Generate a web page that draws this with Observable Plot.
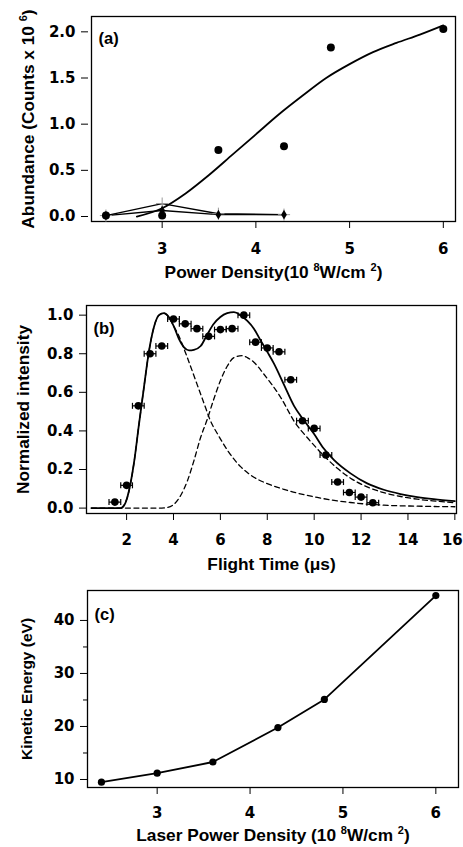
<!DOCTYPE html>
<html><head><meta charset="utf-8">
<script src="https://cdn.jsdelivr.net/npm/d3@7"></script>
<script src="https://cdn.jsdelivr.net/npm/@observablehq/plot@0.6"></script>
<style>
body{margin:0;background:#fff;}
#c{width:463px;}
#c svg{display:block;}
g[aria-label="x-axis tick label"], g[aria-label="y-axis tick label"] {font-family: 'DejaVu Sans', 'Liberation Sans', sans-serif; font-size: 15px; font-weight: bold;}
g[aria-label="x-axis label"], g[aria-label="y-axis label"] {font-size: 17.3px; font-weight: bold;}
</style></head><body><div id="c"></div>
<script>
// ---------- Panel (a) ----------
const aPower = [2.4, 3.0, 3.6, 4.3, 4.8, 6.0];
const aAbundance = [0.01, 0.01, 0.72, 0.76, 1.83, 2.03];
const aFitX = [2.73, 3.0, 3.25, 3.5, 3.75, 4.0, 4.25, 4.5, 4.75, 5.0, 5.25, 5.5, 5.75, 6.0];
const aFitY = [0.0, 0.09, 0.25, 0.45, 0.67, 0.89, 1.11, 1.31, 1.50, 1.65, 1.78, 1.88, 1.97, 2.07];
const aDiamondX = [2.4, 3.0, 3.6, 4.3];
const aDiamondY = [0.01, 0.065, 0.02, 0.02];
const aPlusX = [2.4, 3.0, 3.6, 4.3];
const aPlusY = [0.01, 0.14, 0.03, 0.02];
const aXTicks = [3, 4, 5, 6];
const aYTicks = [0, 0.5, 1.0, 1.5, 2.0];

// ---------- Panel (b) ----------
const bTime = [1.5, 2.0, 2.5, 3.0, 3.5, 4.0, 4.5, 5.0, 5.5, 6.0, 6.5, 7.0, 7.5, 8.0, 8.5, 9.0, 9.5, 10.0, 10.5, 11.0, 11.5, 12.0, 12.5];
const bIntensity = [0.031, 0.118, 0.53, 0.80, 0.84, 0.98, 0.955, 0.93, 0.89, 0.925, 0.93, 1.0, 0.86, 0.83, 0.81, 0.665, 0.453, 0.413, 0.275, 0.135, 0.081, 0.057, 0.028];
const bTimeErr = [0.25, 0.25, 0.25, 0.25, 0.25, 0.25, 0.25, 0.25, 0.25, 0.25, 0.25, 0.25, 0.25, 0.25, 0.25, 0.25, 0.25, 0.25, 0.25, 0.25, 0.25, 0.25, 0.25];
const bSumX = [0.5, 1.77, 2.03, 2.31, 2.53, 2.74, 2.95, 3.17, 3.38, 3.59, 3.8, 4.02, 4.23, 4.44, 4.66, 4.87, 5.16, 5.44, 5.72, 6.0, 6.29, 6.58, 6.86, 7.15, 7.43, 7.71, 8.0, 8.28, 8.71, 9.14, 9.56, 9.99, 10.4, 10.84, 11.55, 12.26, 12.97, 13.68, 14.4, 15.1, 16.0];
const bSumY = [0, 0, 0.055, 0.23, 0.436, 0.626, 0.81, 0.94, 1.0, 1.01, 0.99, 0.94, 0.877, 0.834, 0.817, 0.82, 0.84, 0.90, 0.955, 0.99, 1.01, 1.016, 1.0, 0.97, 0.93, 0.87, 0.81, 0.75, 0.64, 0.53, 0.455, 0.385, 0.31, 0.25, 0.18, 0.128, 0.095, 0.073, 0.057, 0.046, 0.036];
const bFastX = [1.77, 2.03, 2.31, 2.53, 2.74, 2.95, 3.17, 3.38, 3.59, 3.8, 4.02, 4.16, 4.59, 5.01, 5.37, 5.55, 5.9, 6.3, 6.86, 7.43, 8.0, 8.71, 10.13, 11.55, 12.97, 14.4, 16.0];
const bFastY = [0, 0.055, 0.23, 0.436, 0.626, 0.81, 0.94, 1.0, 1.01, 0.99, 0.94, 0.91, 0.78, 0.64, 0.52, 0.46, 0.38, 0.30, 0.215, 0.16, 0.127, 0.097, 0.055, 0.029, 0.015, 0.01, 0.007];
const bSlowX = [0.5, 3.5, 3.73, 4.02, 4.3, 4.59, 4.87, 5.16, 5.44, 5.72, 6.0, 6.29, 6.58, 6.93, 7.15, 7.43, 7.85, 8.57, 9.2, 9.6, 10.0, 10.41, 11.0, 11.55, 12.26, 12.97, 13.7, 14.4, 15.2, 16.0];
const bSlowY = [0, 0, 0.003, 0.02, 0.064, 0.14, 0.245, 0.367, 0.46, 0.565, 0.66, 0.735, 0.78, 0.79, 0.78, 0.756, 0.695, 0.574, 0.44, 0.38, 0.325, 0.272, 0.205, 0.155, 0.11, 0.08, 0.06, 0.046, 0.036, 0.028];
const bXTicks = [2, 4, 6, 8, 10, 12, 14, 16];
const bYTicks = [0, 0.2, 0.4, 0.6, 0.8, 1.0];

// ---------- Panel (c) ----------
const cPower = [2.4, 3.0, 3.6, 4.3, 4.8, 6.0];
const cEnergy = [9.5, 11.2, 13.3, 19.8, 25.1, 44.7];
const cXTicks = [3, 4, 5, 6];
const cYTicks = [10, 20, 30, 40];
const cYMinor = [15, 25, 35];

const FONT = "'Liberation Sans', Arial, Helvetica, sans-serif";
const zip = (xs, ys) => xs.map((x, i) => ({x, y: ys[i]}));

// vertical bar symbol for error-bar caps
const vbar = {draw(ctx, size) { const h = Math.sqrt(size / Math.PI); ctx.moveTo(0, -h); ctx.lineTo(0, h); }};

function supify(svg) {
  svg.querySelectorAll("text").forEach(t => {
    const s = t.textContent;
    if (!s.includes("^")) return;
    const parts = s.split(/\^(\d)/);
    while (t.firstChild) t.removeChild(t.firstChild);
    parts.forEach((p, i) => {
      const ts = document.createElementNS("http://www.w3.org/2000/svg", "tspan");
      ts.textContent = p;
      if (i % 2 === 1) { ts.setAttribute("dy", "-7"); ts.setAttribute("font-size", "11"); }
      else if (i > 0) { ts.setAttribute("dy", "7"); }
      t.appendChild(ts);
    });
  });
}

const baseStyle = {fontFamily: FONT, fontWeight: "bold", fontSize: "16px", color: "#000", background: "#fff", overflow: "visible"};

// Panel (a)
const plotA = Plot.plot({
  width: 463, height: 290,
  marginLeft: 91, marginRight: 8, marginTop: 16, marginBottom: 69,
  style: baseStyle,
  x: {domain: [2.246, 6.13]},
  y: {domain: [-0.054, 2.166]},
  marks: [
    Plot.axisX({ticks: aXTicks, tickSize: 7, tickPadding: 15, tickFormat: d3.format("d"),
      label: "Power Density(10 ^8W/cm ^2)", labelAnchor: "center", labelOffset: 56, labelArrow: "none"}),
    Plot.axisY({ticks: aYTicks, tickSize: 7, tickPadding: 6, dx: -3, tickFormat: d3.format(".1f"),
      label: "Abundance (Counts x 10 ^6)", labelAnchor: "center", labelOffset: 70, labelArrow: "none"}),
    Plot.frame({stroke: "#000", strokeWidth: 1.3}),
    Plot.line(zip(aFitX, aFitY), {x: "x", y: "y", curve: "monotone-x", stroke: "#000", strokeWidth: 1.8}),
    Plot.line(zip(aPlusX, aPlusY), {x: "x", y: "y", stroke: "#000", strokeWidth: 1.4}),
    Plot.line(zip(aDiamondX, aDiamondY), {x: "x", y: "y", stroke: "#000", strokeWidth: 1.4}),
    Plot.dot(zip(aPlusX, aPlusY), {x: "x", y: "y", symbol: "plus", r: 4, stroke: "#999", strokeWidth: 1}),
    Plot.dot(zip(aDiamondX, aDiamondY), {x: "x", y: "y", symbol: "diamond", r: 3, fill: "#000"}),
    Plot.dot(zip(aPower, aAbundance), {x: "x", y: "y", r: 4, fill: "#000"}),
    Plot.text(["(a)"], {text: d => d, frameAnchor: "top-left", textAnchor: "start", dx: 7, dy: 16, fontSize: 16.5, fontWeight: "bold"})
  ]
});

// Panel (b)
const bPts = bTime.map((t, i) => ({t, v: bIntensity[i], e: bTimeErr[i]}));
const plotB = Plot.plot({
  width: 463, height: 290,
  marginLeft: 86, marginRight: 7, marginTop: 15, marginBottom: 67,
  style: baseStyle,
  x: {domain: [0.29, 16.07]},
  y: {domain: [-0.028, 1.05]},
  marks: [
    Plot.axisX({ticks: bXTicks, tickSize: 7, tickPadding: 14, tickFormat: d3.format("d"),
      label: "Flight Time (μs)", labelAnchor: "center", labelOffset: 56, labelArrow: "none"}),
    Plot.axisY({ticks: bYTicks, tickSize: 7, tickPadding: 6, tickFormat: d3.format(".1f"),
      label: "Normalized intensity", labelAnchor: "center", labelOffset: 70, labelArrow: "none"}),
    Plot.frame({stroke: "#000", strokeWidth: 1.3}),
    Plot.line(zip(bFastX, bFastY), {x: "x", y: "y", curve: "monotone-x", stroke: "#000", strokeWidth: 1.3, strokeDasharray: "5,3.5"}),
    Plot.line(zip(bSlowX, bSlowY), {x: "x", y: "y", curve: "monotone-x", stroke: "#000", strokeWidth: 1.3, strokeDasharray: "5,3.5"}),
    Plot.line(zip(bSumX, bSumY), {x: "x", y: "y", curve: "monotone-x", stroke: "#000", strokeWidth: 1.8}),
    Plot.link(bPts, {x1: d => d.t - d.e, x2: d => d.t + d.e, y1: "v", y2: "v", stroke: "#000", strokeWidth: 1.2}),
    Plot.dot(bPts, {x: d => d.t - d.e, y: "v", symbol: vbar, r: 3, stroke: "#000", strokeWidth: 1.2, fill: "none"}),
    Plot.dot(bPts, {x: d => d.t + d.e, y: "v", symbol: vbar, r: 3, stroke: "#000", strokeWidth: 1.2, fill: "none"}),
    Plot.dot(bPts, {x: "t", y: "v", r: 3.8, fill: "#000"}),
    Plot.text(["(b)"], {text: d => d, frameAnchor: "top-left", textAnchor: "start", dx: 7, dy: 17, fontSize: 16.5, fontWeight: "bold"})
  ]
});

// Panel (c)
const plotC = Plot.plot({
  width: 463, height: 267,
  marginLeft: 87, marginRight: 5, marginTop: 10, marginBottom: 60,
  style: baseStyle,
  x: {domain: [2.25, 6.244]},
  y: {domain: [8.49, 45.65]},
  marks: [
    Plot.axisX({ticks: cXTicks, tickSize: 7, tickPadding: 13, tickFormat: d3.format("d"),
      label: "Laser Power Density (10 ^8W/cm ^2)", labelAnchor: "center", labelOffset: 53, labelArrow: "none"}),
    Plot.axisY({ticks: cYTicks, tickSize: 7, tickPadding: 6, tickFormat: d3.format("d"),
      label: "Kinetic Energy (eV)", labelAnchor: "center", labelOffset: 67, labelArrow: "none"}),
    Plot.axisY({ticks: cYMinor, tickSize: 4, tickFormat: () => "", label: null}),
    Plot.frame({stroke: "#000", strokeWidth: 1.3}),
    Plot.line(zip(cPower, cEnergy), {x: "x", y: "y", stroke: "#000", strokeWidth: 1.8}),
    Plot.dot(zip(cPower, cEnergy), {x: "x", y: "y", r: 3.6, fill: "#000"}),
    Plot.text(["(c)"], {text: d => d, frameAnchor: "top-left", textAnchor: "start", dx: 7, dy: 18, fontSize: 16.5, fontWeight: "bold"})
  ]
});

[plotA, plotB, plotC].forEach(p => {
  supify(p);
  document.getElementById("c").appendChild(p);
});
// smaller y label in panel (c)
const cLab = plotC.querySelector('g[aria-label="y-axis label"]');
if (cLab) cLab.style.fontSize = "15.5px";
// keep the last x tick label of panel (b) inside the page
const bTickTexts = plotB.querySelectorAll('g[aria-label="x-axis tick label"] text');
if (bTickTexts.length) bTickTexts[bTickTexts.length - 1].setAttribute("dx", "-2.5");
</script></body></html>
